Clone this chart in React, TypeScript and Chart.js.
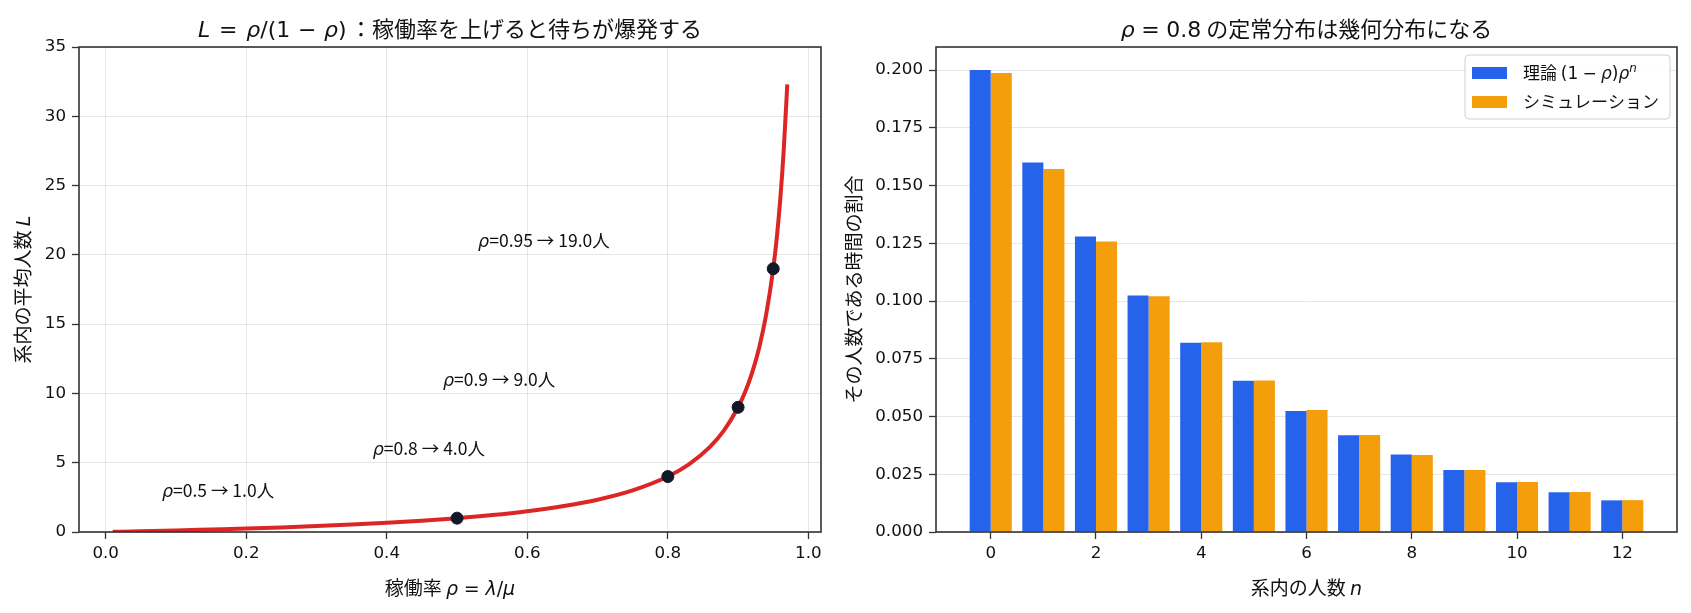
import { useEffect, useRef } from 'react';
import { Chart, registerables } from 'chart.js';

Chart.register(...registerables);

// 左: L = rho / (1 - rho) の曲線
const RHO = [0.01, 0.05, 0.1, 0.15, 0.2, 0.25, 0.3, 0.35, 0.4, 0.45, 0.5, 0.55, 0.6, 0.65, 0.7, 0.75, 0.8, 0.83, 0.86, 0.88, 0.9, 0.91, 0.92, 0.93, 0.94, 0.95, 0.955, 0.96, 0.965, 0.97];
const L_CURVE = [0.01, 0.05, 0.11, 0.18, 0.25, 0.33, 0.43, 0.54, 0.67, 0.82, 1.0, 1.22, 1.5, 1.86, 2.33, 3.0, 4.0, 4.88, 6.14, 7.33, 9.0, 10.1, 11.5, 13.3, 15.7, 19.0, 21.2, 24.0, 27.6, 32.3];
const MARK_RHO = [0.5, 0.8, 0.9, 0.95];
const MARK_L = [1.0, 4.0, 9.0, 19.0];

// 右: rho = 0.8 の定常分布
const N_VALUES = [0, 1, 2, 3, 4, 5, 6, 7, 8, 9, 10, 11, 12];
const THEORY = [0.2, 0.16, 0.128, 0.1024, 0.0819, 0.0655, 0.0524, 0.0419, 0.0336, 0.0268, 0.0215, 0.0172, 0.0137];
const SIMULATION = [0.1987, 0.1572, 0.1258, 0.1021, 0.0822, 0.0656, 0.0528, 0.042, 0.0333, 0.0268, 0.0216, 0.0173, 0.0138];

const BLUE = '#2563eb';
const ORANGE = '#f59e0b';
const RED = '#dc2626';
const DOT = '#111827';
const GRID = 'rgba(176,176,176,0.3)';
const AXIS = '#333333';
const TEXT = '#111111';
const CJK = '"Noto Sans CJK JP", sans-serif';
const MATH = '"DejaVu Sans", sans-serif';
const FS = 16.7; // 目盛り
const LABEL_FS = 19; // 軸ラベル
const TITLE_FS = 22;

type Seg = { t: string; f?: 'cjk' | 'math' | 'it'; sup?: boolean; gap?: number };

function segFont(s: Seg, size: number) {
  const sz = s.sup ? size * 0.7 : size;
  if (s.f === 'it') return `italic ${sz}px ${MATH}`;
  if (s.f === 'math') return `${sz}px ${MATH}`;
  return `${sz}px ${CJK}`;
}

// 斜体の記号と和文が混ざった文字列を描く
function drawRich(ctx: CanvasRenderingContext2D, segs: Seg[], x: number, y: number, size: number, align: 'left' | 'center', rotate = false) {
  ctx.save();
  ctx.translate(x, y);
  if (rotate) ctx.rotate(-Math.PI / 2);
  ctx.textBaseline = 'alphabetic';
  ctx.textAlign = 'left';
  ctx.fillStyle = TEXT;
  const widths = segs.map((s) => {
    ctx.font = segFont(s, size);
    return ctx.measureText(s.t).width + (s.gap ?? 0) * size;
  });
  const total = widths.reduce((a, b) => a + b, 0);
  let cx = align === 'center' ? -total / 2 : 0;
  const base = size * 0.36;
  segs.forEach((s, i) => {
    ctx.font = segFont(s, size);
    ctx.fillText(s.t, cx, s.sup ? base - size * 0.42 : base);
    cx += widths[i];
  });
  ctx.restore();
}

const sp = (g: number): Seg => ({ t: '', gap: g });

type Decor = {
  title: Seg[];
  xTitle: Seg[];
  yTitle: Seg[];
  yTitleX: number;
  extra?: (chart: any) => void;
};

function decorPlugin(d: Decor) {
  return {
    id: 'decor',
    afterDraw(chart: any) {
      const ctx = chart.ctx as CanvasRenderingContext2D;
      const a = chart.chartArea;
      const cx = (a.left + a.right) / 2;
      const cy = (a.top + a.bottom) / 2;
      if (d.extra) d.extra(chart);
      ctx.save();
      ctx.strokeStyle = AXIS;
      ctx.lineWidth = 1.6;
      ctx.strokeRect(a.left, a.top, a.right - a.left, a.bottom - a.top);
      ctx.restore();
      drawRich(ctx, d.title, cx, 29, TITLE_FS, 'center');
      drawRich(ctx, d.xTitle, cx, 588, LABEL_FS, 'center');
      drawRich(ctx, d.yTitle, d.yTitleX, cy, LABEL_FS, 'center', true);
    },
  };
}

function axisBase(fmt: (v: number) => string) {
  return {
    type: 'linear' as const,
    border: { display: false },
    grid: { color: GRID, lineWidth: 1, tickColor: AXIS, tickLength: 7, tickWidth: 1.3, offset: false },
    ticks: {
      includeBounds: false,
      color: TEXT,
      font: { family: MATH, size: FS },
      callback: (v: any) => fmt(Number(v)),
    },
  };
}

function LeftChart() {
  const ref = useRef<HTMLCanvasElement | null>(null);
  useEffect(() => {
    const ctx = ref.current?.getContext('2d');
    if (!ctx) return;
    const xb = axisBase((v) => v.toFixed(1));
    const yb = axisBase((v) => String(Math.round(v)));
    const chart = new Chart(ctx, {
      type: 'scatter',
      data: {
        datasets: [
          {
            label: 'marks',
            data: MARK_RHO.map((r, i) => ({ x: r, y: MARK_L[i] })),
            backgroundColor: DOT,
            borderColor: DOT,
            pointRadius: 6,
            order: 0,
          },
          {
            label: 'L',
            data: RHO.map((r, i) => ({ x: r, y: L_CURVE[i] })),
            showLine: true,
            borderColor: RED,
            borderWidth: 4,
            pointRadius: 0,
            cubicInterpolationMode: 'monotone',
            order: 1,
          },
        ],
      },
      options: {
        animation: false,
        responsive: false,
        devicePixelRatio: 1,
        layout: { padding: { left: 0, right: 19, top: 47, bottom: 0 } },
        plugins: { legend: { display: false }, tooltip: { enabled: false } },
        scales: {
          x: {
            ...xb,
            min: -0.038,
            max: 1.018,
            afterFit: (s: any) => { s.height = 81; },
            ticks: { ...xb.ticks, stepSize: 0.2, padding: 5 },
          },
          y: {
            ...yb,
            min: 0,
            max: 35,
            afterFit: (s: any) => { s.width = 79; },
            ticks: { ...yb.ticks, stepSize: 5, padding: 6 },
          },
        },
      } as any,
      plugins: [
        decorPlugin({
          title: [
            { t: 'L', f: 'it' }, sp(0.4), { t: '=', f: 'math' }, sp(0.4), { t: 'ρ', f: 'it' }, { t: '/(1', f: 'math' },
            sp(0.35), { t: '−', f: 'math' }, sp(0.35), { t: 'ρ', f: 'it' }, { t: ')', f: 'math' }, sp(0.15),
            { t: '：稼働率を上げると待ちが爆発する' },
          ],
          xTitle: [{ t: '稼働率 ' }, { t: 'ρ', f: 'it' }, sp(0.3), { t: '=', f: 'math' }, sp(0.3), { t: 'λ', f: 'it' }, { t: '/', f: 'math' }, { t: 'μ', f: 'it' }],
          yTitle: [{ t: '系内の平均人数 ' }, { t: 'L', f: 'it' }],
          yTitleX: 23,
          extra: (c: any) => {
            const xs = c.scales.x;
            const ys = c.scales.y;
            MARK_RHO.forEach((r, i) => {
              drawRich(c.ctx, [{ t: 'ρ', f: 'it' }, { t: `=${r} → ${MARK_L[i].toFixed(1)}人` }],
                xs.getPixelForValue(r - 0.42), ys.getPixelForValue(MARK_L[i] + 2), 17.5, 'left');
            });
          },
        }),
      ],
    });
    return () => chart.destroy();
  }, []);
  return <canvas ref={ref} width={840} height={613} style={{ width: 840, height: 613, display: 'block' }} />;
}

function RightChart() {
  const ref = useRef<HTMLCanvasElement | null>(null);
  useEffect(() => {
    const ctx = ref.current?.getContext('2d');
    if (!ctx) return;
    const xb = axisBase((v) => String(Math.round(v)));
    const yb = axisBase((v) => v.toFixed(3));
    const legendItems: { color: string; segs: Seg[] }[] = [
      {
        color: BLUE,
        segs: [{ t: '理論 ' }, { t: '(1', f: 'math' }, sp(0.25), { t: '−', f: 'math' }, sp(0.25), { t: 'ρ', f: 'it' }, { t: ')', f: 'math' }, { t: 'ρ', f: 'it' }, { t: 'n', f: 'it', sup: true }],
      },
      { color: ORANGE, segs: [{ t: 'シミュレーション' }] },
    ];
    const chart = new Chart(ctx, {
      type: 'bar',
      data: {
        datasets: [
          {
            label: '理論',
            data: N_VALUES.map((n, i) => ({ x: n, y: THEORY[i] })),
            backgroundColor: BLUE,
            barPercentage: 1,
            categoryPercentage: 0.8,
          },
          {
            label: 'シミュレーション',
            data: N_VALUES.map((n, i) => ({ x: n, y: SIMULATION[i] })),
            backgroundColor: ORANGE,
            barPercentage: 1,
            categoryPercentage: 0.8,
          },
        ],
      },
      options: {
        animation: false,
        responsive: false,
        devicePixelRatio: 1,
        layout: { padding: { left: 0, right: 14, top: 47, bottom: 0 } },
        plugins: { legend: { display: false }, tooltip: { enabled: false } },
        scales: {
          x: {
            ...xb,
            offset: false,
            min: -1.04,
            max: 13.04,
            afterFit: (s: any) => { s.height = 81; },
            grid: { ...xb.grid, drawOnChartArea: false },
            ticks: { ...xb.ticks, stepSize: 2, padding: 5 },
          },
          y: {
            ...yb,
            z: 1,
            min: 0,
            max: 0.21,
            afterFit: (s: any) => { s.width = 96; },
            ticks: { ...yb.ticks, stepSize: 0.025, padding: 6 },
          },
        },
      } as any,
      plugins: [
        decorPlugin({
          title: [{ t: 'ρ', f: 'it' }, sp(0.3), { t: '=', f: 'math' }, sp(0.3), { t: '0.8', f: 'math' }, { t: ' の定常分布は幾何分布になる' }],
          xTitle: [{ t: '系内の人数 ' }, { t: 'n', f: 'it' }],
          yTitle: [{ t: 'その人数である時間の割合' }],
          yTitleX: 14,
          extra: (c: any) => {
            const g = c.ctx as CanvasRenderingContext2D;
            const a = c.chartArea;
            const bx = a.right - 212;
            const by = a.top + 8;
            g.save();
            g.beginPath();
            g.roundRect(bx, by, 205, 64, 4);
            g.fillStyle = 'rgba(255,255,255,0.85)';
            g.fill();
            g.strokeStyle = '#d0d0d0';
            g.lineWidth = 1;
            g.stroke();
            legendItems.forEach((it, i) => {
              const yy = by + 18 + i * 29;
              g.fillStyle = it.color;
              g.fillRect(bx + 7, yy - 6, 35, 12);
              drawRich(g, it.segs, bx + 58, yy, 17, 'left');
            });
            g.restore();
          },
        }),
      ],
    });
    return () => chart.destroy();
  }, []);
  return <canvas ref={ref} width={851} height={613} style={{ width: 851, height: 613, display: 'block' }} />;
}

export default function App() {
  return (
    <div style={{ position: 'absolute', left: 0, top: 0, width: 1691, height: 613, background: '#fff', display: 'flex' }}>
      <LeftChart />
      <RightChart />
    </div>
  );
}
